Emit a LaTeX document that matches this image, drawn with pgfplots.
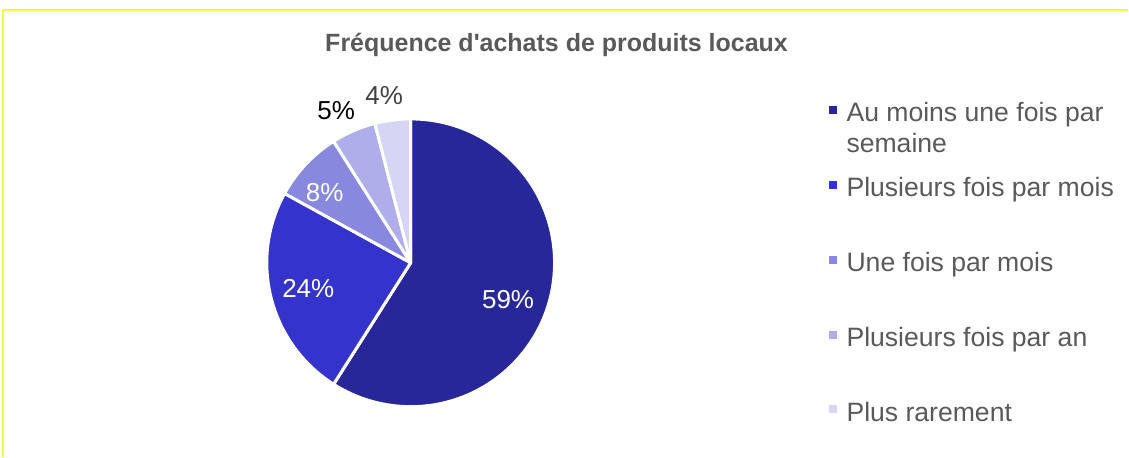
\documentclass[border=0pt]{standalone}
\usepackage{pgfplots}
\pgfplotsset{compat=1.18}
\usepackage{fontspec}
\setmainfont{Liberation Sans}
\definecolor{c1}{HTML}{28279A}
\definecolor{c2}{HTML}{3434CC}
\definecolor{c3}{HTML}{8888DE}
\definecolor{c4}{HTML}{AEAEEA}
\definecolor{c5}{HTML}{D6D6F4}
\definecolor{txt}{HTML}{595959}
\definecolor{txtdark}{HTML}{404040}
\definecolor{framecol}{HTML}{F6F640}
\tikzset{
  pct/.style={font=\fontsize{26}{30}\selectfont, inner sep=0pt},
  leg/.style={font=\fontsize{26.6}{31}\selectfont, text=txt, anchor=base west, inner sep=0pt},
}
\begin{document}
\begin{tikzpicture}
\begin{axis}[x=1pt, y=1pt, xmin=0, xmax=1129, ymin=0, ymax=457,
  hide axis, scale only axis, clip=false]
\path (axis cs:0,0) rectangle (axis cs:1129,457);
% frame
\draw[framecol, line width=1.8pt] (axis cs:3,0) -- (axis cs:3,447) -- (axis cs:1129,447);
% title
\node[font=\bfseries\fontsize{25}{30}\selectfont, text=txt, anchor=base, inner sep=0pt] at (axis cs:557,405) {Fréquence d\textquotesingle achats de produits locaux};
% pie (centre 411,194 ; radius 144)
\xdef\start{90}
\foreach \v/\c/\dx/\dy/\lc in {59/c1/97.5/-37/white, 24/c2/-102.5/-26/white, 8/c3/-86/70/white, 5/c4/-74.5/152/black, 4/c5/-26.5/167/txtdark}{
  \pgfmathsetmacro{\stop}{\start-3.6*\v}
  \edef\cmd{\noexpand\fill[\c, draw=white, line width=3pt, line join=round] (axis cs:411,194) -- ++(\start:144pt) arc[start angle=\start, end angle=\stop, radius=144pt] -- cycle;
  \noexpand\node[pct, text=\lc] at (axis cs:411+\dx,194+\dy) {\v\noexpand\%};}
  \cmd
  \xdef\start{\stop}
}
% legend
\foreach \y/\c in {343/c1, 268/c2, 193/c3, 118/c4, 44/c5}{
  \edef\cmd{\noexpand\fill[\c] (axis cs:830,\y) rectangle (axis cs:838,\y+8);}
  \cmd
}
\node[leg] at (axis cs:847,335) {Au moins une fois par};
\node[leg] at (axis cs:847,304) {semaine};
\node[leg] at (axis cs:847,260) {Plusieurs fois par mois};
\node[leg] at (axis cs:847,185) {Une fois par mois};
\node[leg] at (axis cs:847,110) {Plusieurs fois par an};
\node[leg] at (axis cs:847,35) {Plus rarement};
\end{axis}
\end{tikzpicture}
\end{document}
